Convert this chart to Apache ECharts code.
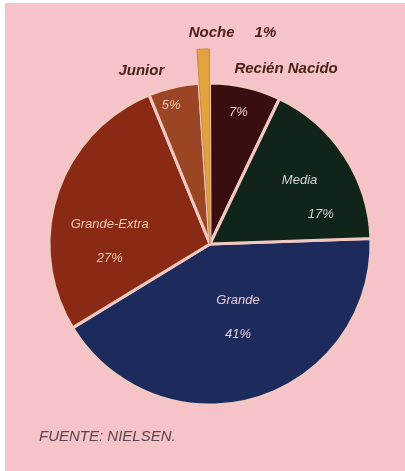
<!DOCTYPE html>
<html>
<head>
<meta charset="utf-8">
<script src="https://cdn.jsdelivr.net/npm/echarts@6/dist/echarts.min.js"></script>
<style>
  html, body { margin: 0; padding: 0; background: #ffffff; }
  #chart { position: absolute; left: 5px; top: 3px; width: 400px; height: 468px; }
</style>
</head>
<body>
<div id="chart"></div>
<script>
// Diaper sales by size (share of market, %)
const categories = ['Grande', 'Grande-Extra', 'Junior', 'Noche', 'Recién Nacido', 'Media'];
const shares = [41, 27, 5, 1, 7, 17];
const sourceNote = 'FUENTE: NIELSEN.';

// Look of each slice
const sliceColors = ['#1d2a5c', '#8a2914', '#9b4524', '#e3a23c', '#3a0d0f', '#10241a'];
const innerTextColors = ['#e9cbd6', '#f2c9ae', '#f3c9b4', '#f3c9b4', '#eacfc8', '#d6d4d4'];
// which text sits inside each slice: name + share, share only, or nothing
const innerKind = ['both', 'both', 'pct', 'none', 'pct', 'media'];
// which slices carry their name outside the pie
const outerKind = ['none', 'none', 'name', 'noche', 'name', 'none'];
// label nudges from the default in-slice anchor
const innerNudge = [[4, -7], [-21, 23], [-20, -57], [0, 0], [10, -50], [28, -1]];
const outerNudge = [[0, 0], [0, 0], [-46, -75], [26, -111], [54, -77], [0, 0]];

const FONT = '"Liberation Sans", Arial, sans-serif';
const BG = '#f5c3c8';
const GAP = '#f2c8c2';

const chart = echarts.init(document.getElementById('chart'), null, { renderer: 'canvas' });

const center = [205, 241];

const mainData = categories.map((name, i) => ({
  name: name,
  value: shares[i],
  itemStyle: { color: sliceColors[i] },
  label: { color: innerTextColors[i] }
}));

const outerData = categories.map((name, i) => ({
  name: name,
  value: shares[i],
  itemStyle: outerKind[i] === 'noche'
    ? { color: sliceColors[i], borderColor: '#c98a45', borderWidth: 1 }
    : { color: 'rgba(0,0,0,0)', borderWidth: 0 }
}));

const innerRich = {
  n: { fontFamily: FONT, fontStyle: 'italic', fontSize: 13, lineHeight: 34 },
  p: { fontFamily: FONT, fontStyle: 'italic', fontSize: 13, lineHeight: 34 },
  nl: { fontFamily: FONT, fontStyle: 'italic', fontSize: 13, lineHeight: 34, align: 'left' },
  pl: { fontFamily: FONT, fontStyle: 'italic', fontSize: 13, lineHeight: 34, align: 'left', padding: [0, 0, 0, 26] }
};

const outerRich = {
  o: { fontFamily: FONT, fontStyle: 'italic', fontWeight: 'bold', fontSize: 15, color: '#4a2218' },
  q: { fontFamily: FONT, fontStyle: 'italic', fontWeight: 'bold', fontSize: 15, color: '#4a2218', padding: [0, 0, 0, 20] }
};

chart.setOption({
  backgroundColor: BG,
  animation: false,
  graphic: [{
    type: 'text',
    left: 34,
    top: 426,
    style: {
      text: sourceNote,
      font: 'italic 15px ' + FONT,
      fill: '#5a4650'
    }
  }],
  series: [
    {
      type: 'pie',
      center: center,
      radius: [0, 161],
      startAngle: 2,
      clockwise: true,
      silent: true,
      avoidLabelOverlap: false,
      data: mainData,
      itemStyle: { borderColor: GAP, borderWidth: 3 },
      labelLine: { show: false },
      label: {
        show: true,
        position: 'inside',
        rich: innerRich,
        formatter: (p) => {
          const k = innerKind[p.dataIndex];
          const pct = shares[p.dataIndex] + '%';
          if (k === 'both') return '{n|' + p.name + '}\n{p|' + pct + '}';
          if (k === 'media') return '{nl|' + p.name + '}\n{pl|' + pct + '}';
          if (k === 'pct') return '{p|' + pct + '}';
          return '';
        }
      },
      labelLayout: (params) => {
        const d = innerNudge[params.dataIndex];
        return { dx: d[0], dy: d[1] };
      }
    },
    {
      type: 'pie',
      center: center,
      radius: [0, 195],
      startAngle: 2,
      clockwise: true,
      silent: true,
      avoidLabelOverlap: false,
      data: outerData,
      labelLine: { show: false },
      label: {
        show: true,
        position: 'inside',
        rich: outerRich,
        formatter: (p) => {
          const k = outerKind[p.dataIndex];
          if (k === 'name') return '{o|' + p.name + '}';
          if (k === 'noche') return '{o|' + p.name + '}{q|' + shares[p.dataIndex] + '%}';
          return '';
        }
      },
      labelLayout: (params) => {
        const d = outerNudge[params.dataIndex];
        return { dx: d[0], dy: d[1] };
      }
    }
  ]
});
</script>
</body>
</html>
